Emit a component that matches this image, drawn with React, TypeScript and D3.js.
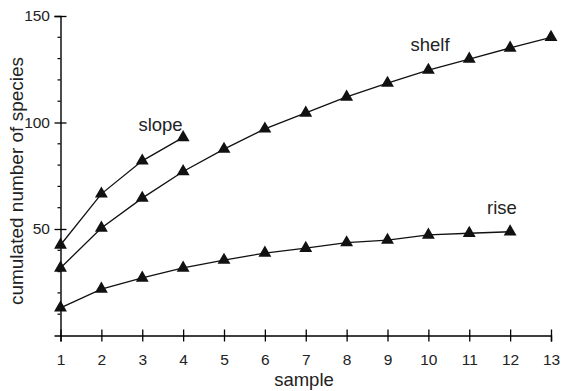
import React, { useEffect, useRef } from 'react';
import * as d3 from 'd3';

const samples = [1, 2, 3, 4, 5, 6, 7, 8, 9, 10, 11, 12, 13];
const slope = [42.5, 66.5, 82, 93];
const shelf = [31.7, 50.5, 64.5, 77, 87.5, 97, 104.5, 112, 118.5, 124.6, 129.8, 135, 140];
const rise = [13, 21.8, 27, 31.7, 35.4, 38.7, 41, 43.6, 44.8, 47.2, 48, 48.7];
const seriesNames = ['slope', 'shelf', 'rise'];
const yMajor = [50, 100, 150];
const yMinor = [10, 20, 30, 40, 60, 70, 80, 90, 110, 120, 130, 140];

export default function App() {
  const ref = useRef<SVGSVGElement>(null);

  useEffect(() => {
    const width = 566;
    const height = 391;
    const font = 'Liberation Sans, Arial, sans-serif';

    const svg = d3.select(ref.current).attr('viewBox', [0, 0, width, height]);
    svg.selectAll('*').remove();

    const x = d3.scaleLinear([1, 13], [60.5, 551]);
    const y = d3.scaleLinear([0, 150], [335.5, 16]);

    // x axis, ticks cross the line
    const gx = svg
      .append('g')
      .attr('transform', `translate(0,${y(0)})`)
      .call(d3.axisBottom(x).tickValues(samples).tickFormat(d3.format('d')).tickSizeOuter(0).tickSize(6).tickPadding(12.5));
    gx.select('.domain').attr('stroke-width', 1.4);
    gx.selectAll('.tick line').attr('y1', -6).attr('y2', 6).attr('stroke-width', 1.3);
    gx.selectAll('.tick text').attr('font-size', 15.5).attr('font-family', font).attr('fill', '#222');

    // y axis major
    const gy = svg
      .append('g')
      .attr('transform', `translate(${x(1)},0)`)
      .call(d3.axisLeft(y).tickValues(yMajor).tickSizeOuter(0).tickSize(6).tickPadding(4.5));
    gy.select('.domain').attr('stroke-width', 1.4);
    gy.selectAll('.tick line').attr('x1', -6).attr('x2', 6).attr('stroke-width', 1.3);
    gy.selectAll('.tick text').attr('font-size', 15.5).attr('font-family', font).attr('fill', '#222');

    // y axis minor
    svg
      .append('g')
      .selectAll('line')
      .data(yMinor)
      .join('line')
      .attr('x1', x(1) - 3)
      .attr('x2', x(1))
      .attr('y1', (d) => y(d))
      .attr('y2', (d) => y(d))
      .attr('stroke', '#000')
      .attr('stroke-width', 1.2);

    const line = d3
      .line<number>()
      .x((_, i) => x(samples[i]))
      .y((d) => y(d));

    const tri = d3.symbol().type(d3.symbolTriangle).size(72);

    [slope, shelf, rise].forEach((vals) => {
      svg
        .append('path')
        .attr('d', line(vals))
        .attr('fill', 'none')
        .attr('stroke', '#111')
        .attr('stroke-width', 1.3);
      svg
        .append('g')
        .selectAll('path')
        .data(vals)
        .join('path')
        .attr('d', tri)
        .attr('transform', (d, i) => `translate(${x(samples[i])},${y(d)})`)
        .attr('fill', '#111');
    });

    // series labels
    const labelPos = [
      [160.5, 131],
      [430, 51],
      [502, 214],
    ];
    svg
      .append('g')
      .selectAll('text')
      .data(seriesNames)
      .join('text')
      .attr('x', (_, i) => labelPos[i][0])
      .attr('y', (_, i) => labelPos[i][1])
      .attr('text-anchor', 'middle')
      .attr('font-size', 18.5)
      .attr('font-family', font)
      .attr('fill', '#222')
      .text((d) => d);

    svg
      .append('text')
      .attr('x', 304)
      .attr('y', 386)
      .attr('text-anchor', 'middle')
      .attr('font-size', 18.5)
      .attr('font-family', font)
      .attr('fill', '#222')
      .text('sample');

    svg
      .append('text')
      .attr('transform', 'translate(23,181) rotate(-90)')
      .attr('text-anchor', 'middle')
      .attr('font-size', 19)
      .attr('font-family', font)
      .attr('fill', '#222')
      .text('cumulated number of species');
  }, []);

  return (
    <svg
      ref={ref}
      width={566}
      height={391}
      style={{ position: 'absolute', left: 0, top: 0, background: '#fff' }}
    />
  );
}
